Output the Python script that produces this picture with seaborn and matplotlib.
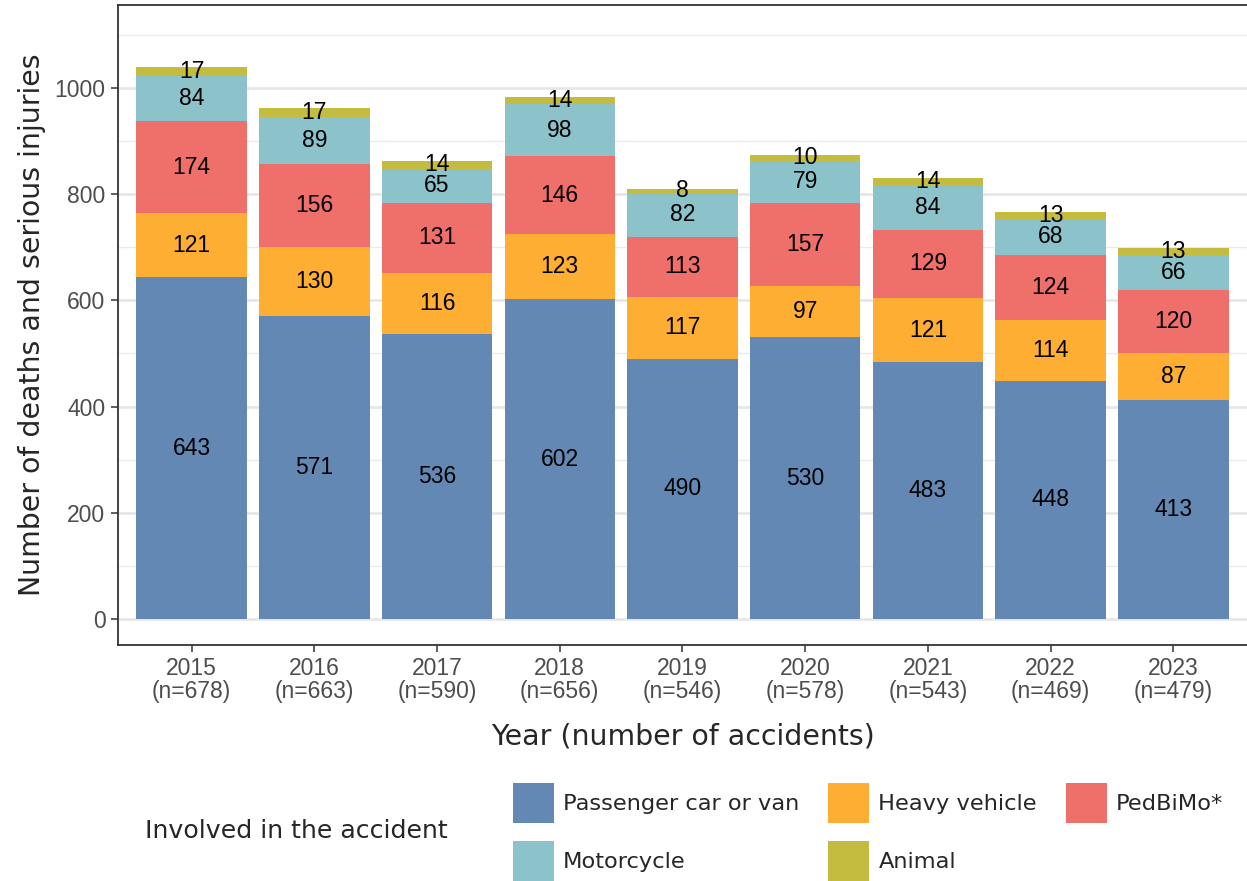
import matplotlib
matplotlib.use("Agg")
import matplotlib.pyplot as plt
from matplotlib.patches import Patch
import numpy as np
import pandas as pd
import seaborn as sns

# data
years = ["2015", "2016", "2017", "2018", "2019", "2020", "2021", "2022", "2023"]
n_accidents = [678, 663, 590, 656, 546, 578, 543, 469, 479]
categories = ["Passenger car or van", "Heavy vehicle", "PedBiMo*", "Motorcycle", "Animal"]
passenger = [643, 571, 536, 602, 490, 530, 483, 448, 413]
heavy = [121, 130, 116, 123, 117, 97, 121, 114, 87]
pedbimo = [174, 156, 131, 146, 113, 157, 129, 124, 120]
motorcycle = [84, 89, 65, 98, 82, 79, 84, 68, 66]
animal = [17, 17, 14, 14, 8, 10, 14, 13, 13]
colors = ["#6388B4", "#FFAE34", "#EF6F6A", "#8CC2CA", "#C3BC3F"]

series = [passenger, heavy, pedbimo, motorcycle, animal]
xlabels = [f"{y}\n(n={n})" for y, n in zip(years, n_accidents)]

sns.set_style("white")
plt.rcParams["font.family"] = ["Liberation Sans", "DejaVu Sans"]

fig = plt.figure(figsize=(12.47, 8.81), dpi=100)
ax = fig.add_axes([0.0946, 0.2679, 0.9054, 0.7264])

# grid (ggplot theme_bw look)
ax.set_axisbelow(True)
ax.set_yticks(np.arange(100, 1200, 200), minor=True)
ax.grid(True, which="major", color="#E6E6E6", linewidth=1.9)
ax.grid(True, which="minor", axis="y", color="#EBEBEB", linewidth=1.0)

bottom = np.zeros(len(years))
for cat, vals, col in zip(categories, series, colors):
    df = pd.DataFrame({"year": years, "value": vals})
    sns.barplot(data=df, x="year", y="value", order=years, color=col,
                width=0.9, errorbar=None, bottom=bottom, linewidth=0,
                saturation=1, ax=ax)
    ax.bar_label(ax.containers[-1], labels=[str(v) for v in vals],
                 label_type="center", fontsize=16.5, color="black")
    bottom = bottom + np.array(vals)

ax.set_xlim(-0.6, 8.6)
ax.set_ylim(-49, 1156)
ax.set_yticks([0, 200, 400, 600, 800, 1000])
ax.set_xticks(range(len(years)))
ax.set_xticklabels(xlabels, fontsize=16.5, color="#4D4D4D", linespacing=0.95)
ax.tick_params(axis="y", labelsize=16.5, labelcolor="#4D4D4D")
ax.tick_params(axis="both", which="major", length=5, width=1.1, color="#333333",
               left=True, bottom=True, pad=4)
ax.tick_params(axis="both", which="minor", length=0)

for side in ["left", "bottom", "top"]:
    ax.spines[side].set_visible(True)
    ax.spines[side].set_color("#333333")
    ax.spines[side].set_linewidth(1.3)
ax.spines["right"].set_visible(False)

ax.set_xlabel("Year (number of accidents)", fontsize=20.4,
              family=["DejaVu Sans"], labelpad=14)
ax.set_ylabel("Number of deaths and serious injuries", fontsize=20.4,
              family=["DejaVu Sans"], labelpad=6)

# legend at the bottom, filled row-wise like ggplot
handles = {c: Patch(facecolor=col, edgecolor="none") for c, col in zip(categories, colors)}
leg_order = ["Passenger car or van", "Motorcycle", "Heavy vehicle", "Animal", "PedBiMo*"]
fig.legend([handles[c] for c in leg_order], leg_order, ncol=3, frameon=False,
           loc="upper left", bbox_to_anchor=(513 / 1247, 1 - 783 / 881),
           bbox_transform=fig.transFigure, borderpad=0, borderaxespad=0,
           handlelength=1.82, handleheight=2.36, handletextpad=0.4,
           columnspacing=1.3, labelspacing=0.8,
           prop={"family": "DejaVu Sans", "size": 16.2})
fig.text(145 / 1247, 1 - 831 / 881, "Involved in the accident", fontsize=18.2,
         family=["DejaVu Sans"], va="center", ha="left")

fig.savefig("out.png", dpi=100)
